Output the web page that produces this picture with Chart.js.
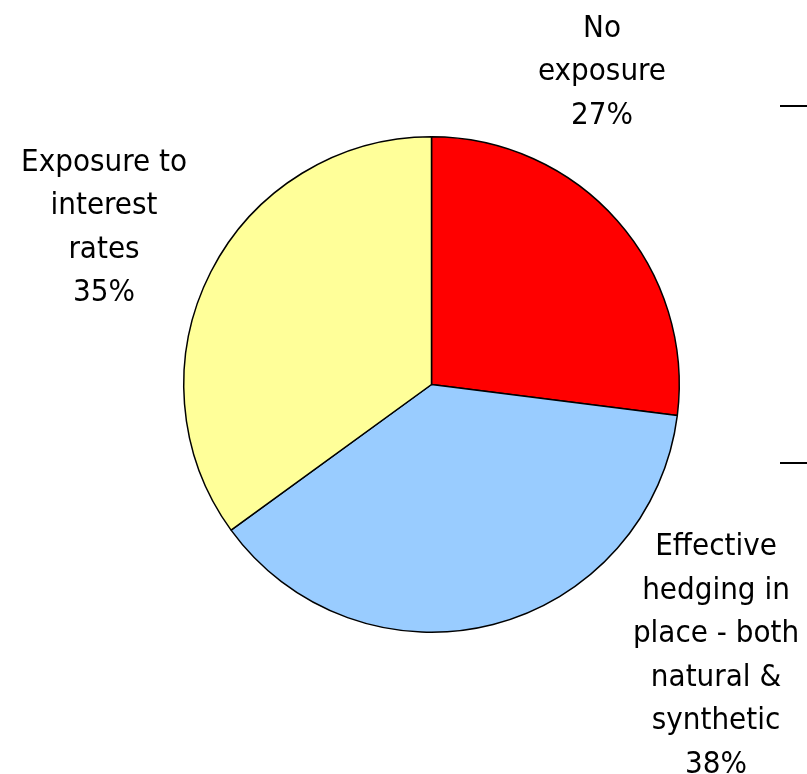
<!DOCTYPE html>
<html>
<head>
<meta charset="utf-8">
<script src="https://cdn.jsdelivr.net/npm/chart.js@4"></script>
<style>
  body { margin: 0; background: #fff; }
  #wrap { width: 807px; height: 774px; }
</style>
</head>
<body>
<div id="wrap"><canvas id="canvas" width="807" height="774"></canvas></div>
<script>
const categories = ['No exposure', 'Effective hedging in place - both natural & synthetic', 'Exposure to interest rates'];
const labelLines = [['No', 'exposure'], ['Effective', 'hedging in', 'place - both', 'natural &', 'synthetic'], ['Exposure to', 'interest', 'rates']];
const shares = [27, 38, 35];
const sliceColors = ['#FF0000', '#99CCFF', '#FFFF99'];

// text block centres for each slice label (canvas pixels)
const labelAnchors = [{ x: 602, y: 72 }, { x: 716, y: 656 }, { x: 104, y: 228 }];

const labelPlugin = {
  id: 'sliceLabels',
  afterDraw(chart) {
    const ctx = chart.ctx;
    const lineH = 43.5;
    ctx.save();
    ctx.font = '31px "DejaVu Sans Condensed", "DejaVu Sans"';
    ctx.fillStyle = '#000';
    ctx.textAlign = 'center';
    ctx.textBaseline = 'middle';
    chart.data.datasets[0].data.forEach((v, i) => {
      const lines = labelLines[i].concat([v + '%']);
      const a = labelAnchors[i];
      const top = a.y - (lines.length - 1) * lineH / 2;
      lines.forEach((t, j) => ctx.fillText(t, a.x, top + j * lineH));
    });
    // stray ticks at right edge
    ctx.strokeStyle = '#000';
    ctx.lineWidth = 2;
    ctx.beginPath();
    ctx.moveTo(780, 106); ctx.lineTo(807, 106);
    ctx.moveTo(780, 463); ctx.lineTo(807, 463);
    ctx.stroke();
    ctx.restore();
  }
};

const canvas = document.getElementById('canvas');

new Chart(canvas, {
  type: 'pie',
  data: {
    labels: categories,
    datasets: [
      {
        data: shares,
        backgroundColor: sliceColors,
        borderColor: '#000',
        borderWidth: 1.5,
      },
    ],
  },
  options: {
    responsive: false,
    animation: false,
    layout: { padding: { left: 183, top: 136, right: 127, bottom: 141 } },
    plugins: {
      legend: { display: false },
      tooltip: { enabled: false },
    },
  },
  plugins: [labelPlugin],
});
</script>
</body>
</html>
